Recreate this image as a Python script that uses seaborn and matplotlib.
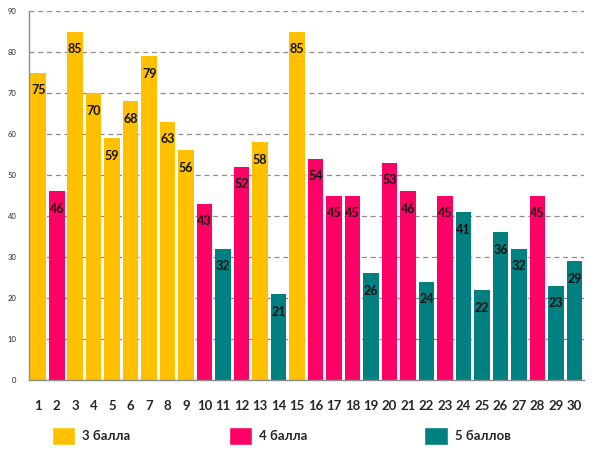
import numpy as np
import pandas as pd
import seaborn as sns
import matplotlib.pyplot as plt
from matplotlib.patches import Patch

# data
days = [str(i) for i in range(1, 31)]
values = [75, 46, 85, 70, 59, 68, 79, 63, 56, 43, 32, 52, 58, 21, 85,
          54, 45, 45, 26, 53, 46, 24, 45, 41, 22, 36, 32, 45, 23, 29]
grades = ['3', '4', '3', '3', '3', '3', '3', '3', '3', '4', '5', '4', '3', '5', '3',
          '4', '4', '4', '5', '4', '4', '5', '4', '5', '5', '5', '5', '4', '5', '5']
grade_names = {'3': '3 балла', '4': '4 балла', '5': '5 баллов'}
grade_colors = {'3': '#FFC000', '4': '#FF0066', '5': '#008080'}
legend_x = {'3': 0.088, '4': 0.387, '5': 0.717}

df = pd.DataFrame({'day': days, 'value': values, 'grade': grades})
bar_colors = [grade_colors[g] for g in grades]

sns.set_style("white")
plt.rcParams['font.family'] = ['Lato', 'DejaVu Sans']

fig = plt.figure(figsize=(5.92, 4.58), dpi=100)
ax = fig.add_axes([0.049, 0.170, 0.937, 0.806])

sns.barplot(data=df, x='day', y='value', hue='day', palette=bar_colors,
            legend=False, width=0.84, saturation=1, linewidth=0, ax=ax)

for cont, v in zip(ax.containers, values):
    ax.bar_label(cont, labels=[str(v)], padding=-17, fontsize=9,
                 fontweight='bold', color='#111111')

ax.set_ylim(0, 90)
ax.set_yticks(range(0, 91, 10))
ax.set_xlim(-0.5, 29.5)
ax.yaxis.grid(True, linestyle=(0, (4, 3)), color='#8c8c8c', linewidth=0.9)
ax.set_axisbelow(True)
ax.set_xlabel('')
ax.set_ylabel('')

for s in ['top', 'right']:
    ax.spines[s].set_visible(False)
for s in ['left', 'bottom']:
    ax.spines[s].set_color('#8c8c8c')
    ax.spines[s].set_linewidth(1.0)

ax.tick_params(axis='y', labelsize=5.5, length=6, color='#8c8c8c', pad=3,
               direction='out')
ax.tick_params(axis='x', which='major', length=0, labelsize=9.5, pad=14)
ax.set_xticks(np.arange(-0.5, 30, 1), minor=True)
ax.tick_params(axis='x', which='minor', length=4, color='#8c8c8c')
for lab in ax.get_xticklabels():
    lab.set_fontweight('bold')

# one legend entry per grade, spaced like the original
for g in ['3', '4', '5']:
    h = Patch(facecolor=grade_colors[g], label=grade_names[g])
    fig.legend(handles=[h], loc='center left', bbox_to_anchor=(legend_x[g], 0.048),
               frameon=False, handlelength=1.75, handleheight=1.75,
               handletextpad=0.55, borderaxespad=0, borderpad=0,
               prop={'weight': 'bold', 'size': 9.5})

plt.savefig('out.png', dpi=100)
